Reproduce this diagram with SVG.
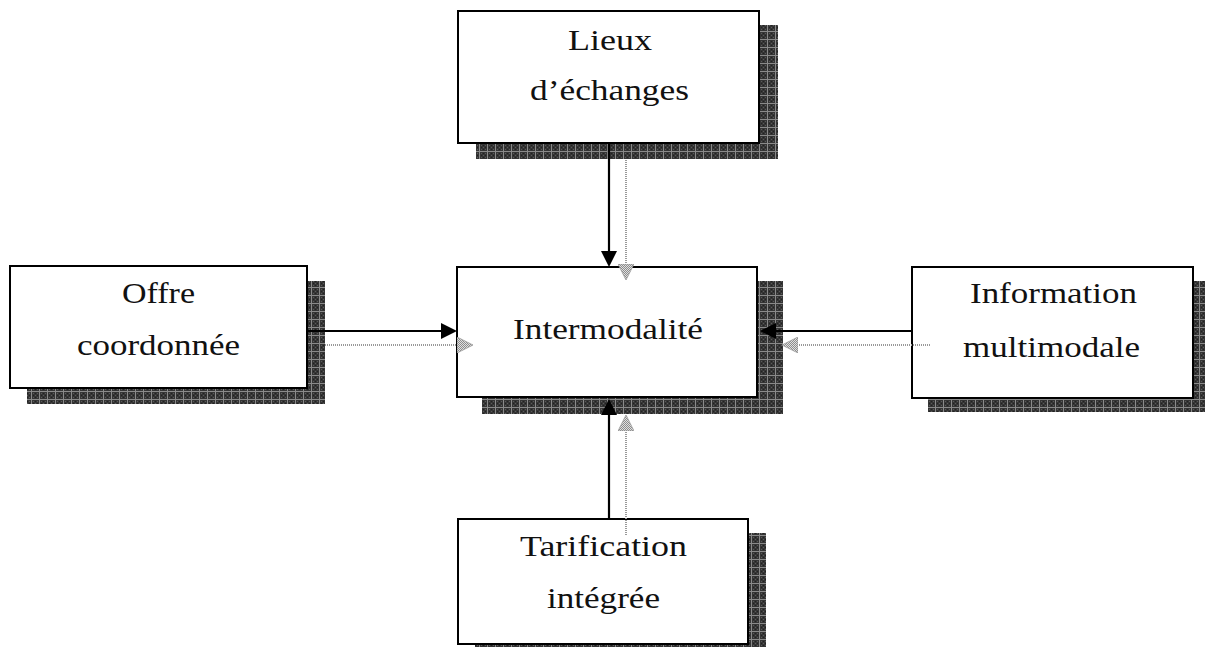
<svg xmlns="http://www.w3.org/2000/svg" width="1211" height="647" viewBox="0 0 1211 647">
<defs>
<pattern id="sh" width="8" height="8" patternUnits="userSpaceOnUse">
<rect width="8" height="8" fill="#353535"/>
<rect x="1" y="1" width="1" height="1" fill="#5a5a5a"/>
<rect x="3" y="3" width="1" height="1" fill="#5a5a5a"/>
<rect x="5" y="5" width="1" height="1" fill="#5a5a5a"/>
<rect x="1" y="5" width="1" height="1" fill="#5a5a5a"/>
<rect x="5" y="1" width="1" height="1" fill="#5a5a5a"/>
<rect x="3" y="1" width="1" height="1" fill="#222"/>
<rect x="1" y="3" width="1" height="1" fill="#222"/>
<rect x="5" y="3" width="1" height="1" fill="#222"/>
<rect x="3" y="5" width="1" height="1" fill="#222"/>
<rect x="7" y="0" width="1" height="8" fill="#8a8a8a"/>
<rect x="0" y="7" width="8" height="1" fill="#8a8a8a"/>
</pattern>
<pattern id="gp" width="2" height="2" patternUnits="userSpaceOnUse">
<rect width="2" height="2" fill="#e0e0e0"/>
<rect width="1" height="1" fill="#8c8c8c"/>
<rect x="1" y="1" width="1" height="1" fill="#8c8c8c"/>
</pattern>
<marker id="ab" markerWidth="16" markerHeight="16" viewBox="0 0 16 16" refX="12" refY="8" orient="auto" markerUnits="userSpaceOnUse">
<path d="M0,0 L16,8 L0,16 z" fill="#000"/>
</marker>
<marker id="ag" markerWidth="16" markerHeight="16" viewBox="0 0 16 16" refX="12" refY="8" orient="auto" markerUnits="userSpaceOnUse">
<path d="M0,0 L16,8 L0,16 z" fill="url(#gp)" stroke="#999" stroke-width="0.8"/>
</marker>
</defs>
<style>
.box{fill:#fff;stroke:#000;stroke-width:2}
.shd{fill:url(#sh)}
.t{font-family:"Liberation Serif","Times New Roman",serif;font-size:30px;fill:#111;text-anchor:middle}
.cb{stroke:#000;stroke-width:2.2;fill:none}
.cg{stroke:#999;stroke-width:2;stroke-dasharray:1 1;fill:none}
</style>
<rect width="1211" height="647" fill="#fff"/>
<g id="lieux">
<rect class="shd" x="476" y="25" width="302" height="134"/>
<rect class="box" x="458" y="11" width="301" height="132"/>
<text class="t" x="610" y="50" textLength="84" lengthAdjust="spacingAndGlyphs">Lieux</text>
<text class="t" x="609.5" y="100" textLength="159" lengthAdjust="spacingAndGlyphs">d’échanges</text>
</g>
<g id="intermodalite">
<rect class="shd" x="482" y="281" width="301" height="133"/>
<rect class="box" x="457" y="267" width="300" height="130"/>
<text class="t" x="608" y="339" textLength="190" lengthAdjust="spacingAndGlyphs">Intermodalité</text>
</g>
<g id="offre">
<rect class="shd" x="27" y="281" width="298" height="123"/>
<rect class="box" x="10" y="266" width="297" height="122"/>
<text class="t" x="158.5" y="303" textLength="73" lengthAdjust="spacingAndGlyphs">Offre</text>
<text class="t" x="158.5" y="355" textLength="163" lengthAdjust="spacingAndGlyphs">coordonnée</text>
</g>
<g id="information">
<rect class="shd" x="928" y="281" width="277" height="131"/>
<rect class="box" x="912" y="267" width="281" height="131"/>
<text class="t" x="1053.5" y="303" textLength="167" lengthAdjust="spacingAndGlyphs">Information</text>
<text class="t" x="1051.5" y="357" textLength="177" lengthAdjust="spacingAndGlyphs">multimodale</text>
</g>
<g id="tarification">
<rect class="shd" x="475" y="533" width="291" height="120"/>
<rect class="box" x="458" y="519" width="290" height="125"/>
<text class="t" x="603.5" y="556" textLength="167" lengthAdjust="spacingAndGlyphs">Tarification</text>
<text class="t" x="603.5" y="608" textLength="113" lengthAdjust="spacingAndGlyphs">intégrée</text>
</g>
<g id="connectors">
<line class="cb" x1="609" y1="143" x2="609" y2="263" marker-end="url(#ab)"/>
<line class="cg" x1="626" y1="160" x2="626" y2="276" marker-end="url(#ag)"/>
<line class="cb" x1="307" y1="331" x2="453" y2="331" marker-end="url(#ab)"/>
<line class="cg" x1="325" y1="345" x2="469" y2="345" marker-end="url(#ag)"/>
<line class="cb" x1="912" y1="331" x2="764" y2="331" marker-end="url(#ab)"/>
<line class="cg" x1="930" y1="345" x2="786" y2="345" marker-end="url(#ag)"/>
<line class="cb" x1="609" y1="519" x2="609" y2="403" marker-end="url(#ab)"/>
<line class="cg" x1="626" y1="535" x2="626" y2="419" marker-end="url(#ag)"/>
</g>
</svg>
